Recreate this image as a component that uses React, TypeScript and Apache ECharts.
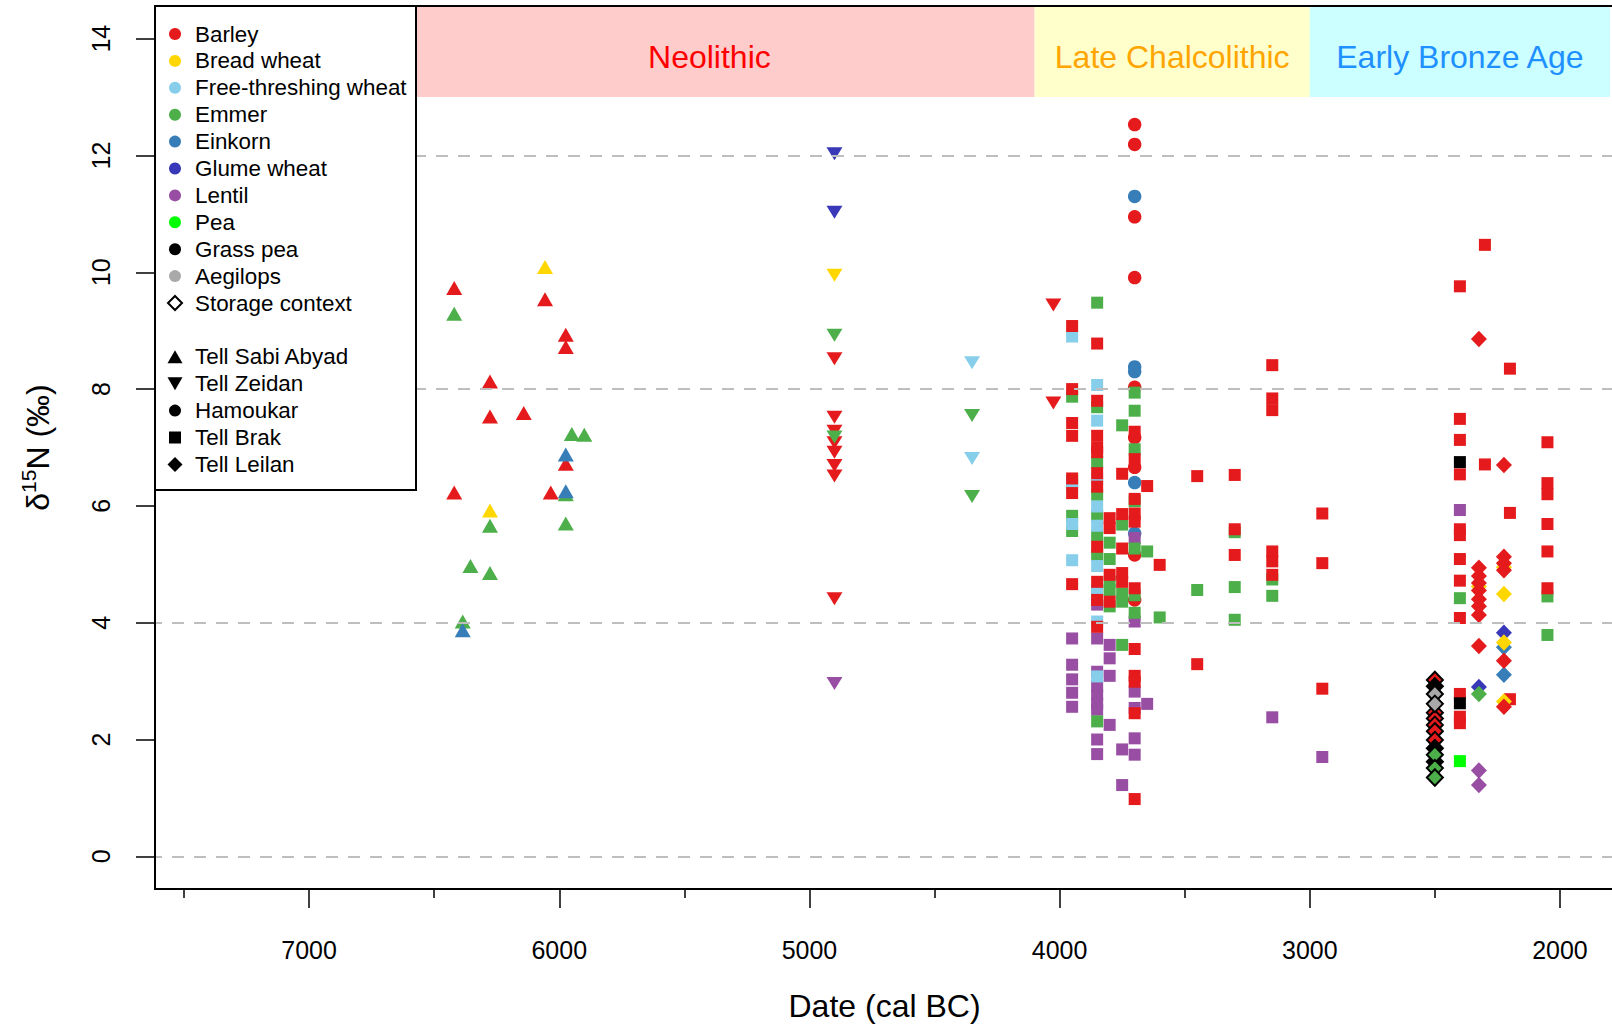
import React, { useEffect, useRef } from "react";
import * as echarts from "echarts";

type Pt = [number, number];

const FONT = "Liberation Sans, Arial, sans-serif";

// Axis extents (cal BC, reversed) and d15N
const X_MIN = 1784;
const X_MAX = 7616;
const Y_MIN = -0.56;
const Y_MAX = 14.56;

const xMajorTicks = [7000, 6000, 5000, 4000, 3000, 2000];
const xMinorTicks = [7500, 6500, 5500, 4500, 3500, 2500];
const yTicks = [0, 2, 4, 6, 8, 10, 12, 14];
const gridLineValues = [0, 4, 8, 12];

// Periods
const periodNames = ["Neolithic", "Late Chalcolithic", "Early Bronze Age"];
const periodStart = [6700, 4100, 3000];
const periodEnd = [4100, 3000, 1800];
const periodBottom = 13;
const periodFill = ["#FFCCCC", "#FFFFCC", "#CCFFFF"];
const periodTextColor = ["#FF0000", "#FFA500", "#1E90FF"];

// Legend
const speciesNames = ["Barley", "Bread wheat", "Free-threshing wheat", "Emmer", "Einkorn", "Glume wheat", "Lentil", "Pea", "Grass pea", "Aegilops"];
const speciesColors = ["#E41A1C", "#FFD700", "#87CEEB", "#4DAF4A", "#377EB8", "#3838B8", "#984EA3", "#00FF00", "#000000", "#A9A9A9"];
const storageLabel = "Storage context";
const siteNames = ["Tell Sabi Abyad", "Tell Zeidan", "Hamoukar", "Tell Brak", "Tell Leilan"];

// ---- Tell Sabi Abyad ----
const sabiBarley: Pt[] = [[6420, 9.73], [6057, 9.54], [5974, 8.93], [5974, 8.72], [6277, 8.13], [6277, 7.53], [6142, 7.59], [5974, 6.72], [6420, 6.23], [6034, 6.23]];
const sabiBreadWheat: Pt[] = [[6057, 10.09], [6277, 5.92]];
const sabiEmmer: Pt[] = [[6420, 9.29], [5950, 7.23], [5900, 7.22], [5974, 6.2], [6277, 5.66], [5974, 5.7], [6355, 4.97], [6277, 4.85], [6386, 4.02]];
const sabiEinkorn: Pt[] = [[5974, 6.88], [5974, 6.25], [6386, 3.87]];

// ---- Tell Zeidan ----
const zeidanBarley: Pt[] = [[4900, 8.52], [4900, 7.52], [4900, 7.28], [4900, 7.08], [4900, 6.92], [4900, 6.69], [4900, 6.51], [4900, 4.41], [4025, 9.44], [4025, 7.76]];
const zeidanBreadWheat: Pt[] = [[4900, 9.95]];
const zeidanFreeThreshing: Pt[] = [[4350, 8.45], [4350, 6.81]];
const zeidanEmmer: Pt[] = [[4900, 8.92], [4900, 7.18], [4350, 7.55], [4350, 6.16]];
const zeidanGlume: Pt[] = [[4900, 12.03], [4900, 11.03]];
const zeidanLentil: Pt[] = [[4900, 2.96]];

// ---- Hamoukar ----
const hamoukarBarley: Pt[] = [[3700, 12.53], [3700, 12.19], [3700, 10.95], [3700, 9.91], [3700, 8.03], [3700, 7.17], [3700, 6.66], [3700, 5.16], [3700, 4.39]];
const hamoukarEinkorn: Pt[] = [[3700, 11.3], [3700, 8.38], [3700, 8.3], [3700, 6.4], [3700, 5.53]];

// ---- Tell Brak ----
const brakBarley: Pt[] = [
  [3950, 9.08], [3950, 8.0], [3950, 7.42], [3950, 7.2], [3950, 6.47], [3950, 6.22], [3950, 4.66],
  [3850, 8.78], [3850, 7.8], [3850, 7.2], [3850, 7.0], [3850, 6.92], [3850, 6.56], [3850, 6.33], [3850, 5.3], [3850, 4.7], [3850, 4.39], [3850, 3.93],
  [3800, 5.79], [3800, 5.62], [3800, 4.82], [3800, 4.36],
  [3750, 6.55], [3750, 5.86], [3750, 5.27], [3750, 4.85], [3750, 4.7],
  [3700, 7.27], [3700, 6.8], [3700, 6.12], [3700, 5.87], [3700, 5.73], [3700, 4.59], [3700, 3.55], [3700, 3.09], [3700, 2.99], [3700, 2.45], [3700, 0.98],
  [3650, 6.34], [3600, 4.99], [3450, 6.51], [3450, 3.29],
  [3300, 6.53], [3300, 5.6], [3300, 5.16],
  [3150, 8.41], [3150, 7.84], [3150, 7.64], [3150, 5.22], [3150, 5.05], [3150, 4.82],
  [2950, 5.87], [2950, 5.02], [2950, 2.87],
  [2400, 9.76], [2400, 7.49], [2400, 7.13], [2400, 6.54], [2400, 5.6], [2400, 5.5], [2400, 5.09], [2400, 4.72], [2400, 4.08], [2400, 2.78], [2400, 2.39], [2400, 2.28],
  [2300, 10.47], [2300, 6.71],
  [2200, 8.35], [2200, 5.88], [2200, 2.69],
  [2050, 7.09], [2050, 6.39], [2050, 6.2], [2050, 5.69], [2050, 5.22], [2050, 4.59],
];
const brakFreeThreshing: Pt[] = [
  [3950, 8.9], [3950, 6.36], [3950, 5.69], [3950, 5.07],
  [3850, 8.07], [3850, 7.46], [3850, 6.46], [3850, 5.99], [3850, 5.66], [3850, 4.97], [3850, 4.57], [3850, 4.02], [3850, 3.08],
];
const brakEmmer: Pt[] = [
  [3950, 7.87], [3950, 6.42], [3950, 5.83], [3950, 5.57],
  [3850, 9.48], [3850, 7.69], [3850, 6.75], [3850, 6.19], [3850, 5.83], [3850, 5.49], [3850, 5.16], [3850, 4.53], [3850, 2.31],
  [3800, 5.37], [3800, 5.09], [3800, 4.7], [3800, 4.56], [3800, 4.28],
  [3750, 7.38], [3750, 5.68], [3750, 4.5], [3750, 4.36], [3750, 3.62],
  [3700, 7.94], [3700, 7.63], [3700, 6.97], [3700, 6.08], [3700, 5.27], [3700, 4.47], [3700, 4.17],
  [3650, 5.22], [3600, 4.09], [3450, 4.56],
  [3300, 5.55], [3300, 4.61], [3300, 4.05],
  [3150, 4.74], [3150, 4.46],
  [2400, 4.42], [2050, 4.45], [2050, 3.79],
];
const brakLentil: Pt[] = [
  [3950, 3.73], [3950, 3.28], [3950, 3.03], [3950, 2.8], [3950, 2.56],
  [3850, 4.31], [3850, 3.73], [3850, 3.16], [3850, 2.91], [3850, 2.76], [3850, 2.62], [3850, 2.51], [3850, 2.0], [3850, 1.75],
  [3800, 3.62], [3800, 3.39], [3800, 3.09], [3800, 2.25],
  [3750, 1.83], [3750, 1.22],
  [3700, 5.45], [3700, 4.02], [3700, 2.82], [3700, 2.54], [3700, 2.02], [3700, 1.74],
  [3650, 2.61], [3150, 2.38], [2950, 1.7], [2400, 5.93],
];
const brakPea: Pt[] = [[2400, 1.63]];
const brakGrassPea: Pt[] = [[2400, 6.75], [2400, 2.62]];

// ---- Tell Leilan ----
const leilanBarley: Pt[] = [
  [2324, 8.86], [2324, 4.94], [2324, 4.8], [2324, 4.68], [2324, 4.55], [2324, 4.4], [2324, 4.28], [2324, 4.13], [2324, 3.6],
  [2224, 6.7], [2224, 5.13], [2224, 5.02], [2224, 4.9], [2224, 3.35], [2224, 2.56],
];
const leilanBreadWheat: Pt[] = [[2324, 4.62], [2224, 4.95], [2224, 4.49], [2224, 3.66], [2224, 2.65]];
const leilanEmmer: Pt[] = [[2324, 2.78]];
const leilanGlume: Pt[] = [[2324, 2.9], [2224, 3.83]];
const leilanEinkorn: Pt[] = [[2224, 3.58], [2224, 3.11]];
const leilanLentil: Pt[] = [[2324, 1.47], [2324, 1.22]];
// storage context (outlined)
const leilanStorageBarley: Pt[] = [[2500, 3.02], [2500, 2.46], [2500, 2.36], [2500, 2.25], [2500, 2.14], [2500, 1.99]];
const leilanStorageGrassPea: Pt[] = [[2500, 2.91], [2500, 1.85], [2500, 1.62]];
const leilanStorageAegilops: Pt[] = [[2500, 2.78], [2500, 2.61]];
const leilanStorageEmmer: Pt[] = [[2500, 1.74], [2500, 1.51], [2500, 1.35]];

type Group = { site: number; species: number; data: Pt[]; storage?: boolean };
const groups: Group[] = [
  { site: 0, species: 0, data: sabiBarley },
  { site: 0, species: 1, data: sabiBreadWheat },
  { site: 0, species: 3, data: sabiEmmer },
  { site: 0, species: 4, data: sabiEinkorn },
  { site: 1, species: 0, data: zeidanBarley },
  { site: 1, species: 1, data: zeidanBreadWheat },
  { site: 1, species: 2, data: zeidanFreeThreshing },
  { site: 1, species: 3, data: zeidanEmmer },
  { site: 1, species: 5, data: zeidanGlume },
  { site: 1, species: 6, data: zeidanLentil },
  { site: 2, species: 0, data: hamoukarBarley },
  { site: 2, species: 4, data: hamoukarEinkorn },
  { site: 3, species: 6, data: brakLentil },
  { site: 3, species: 3, data: brakEmmer },
  { site: 3, species: 2, data: brakFreeThreshing },
  { site: 3, species: 0, data: brakBarley },
  { site: 3, species: 7, data: brakPea },
  { site: 3, species: 8, data: brakGrassPea },
  { site: 4, species: 5, data: leilanGlume },
  { site: 4, species: 4, data: leilanEinkorn },
  { site: 4, species: 1, data: leilanBreadWheat },
  { site: 4, species: 0, data: leilanBarley },
  { site: 4, species: 3, data: leilanEmmer },
  { site: 4, species: 6, data: leilanLentil },
  { site: 4, species: 0, data: leilanStorageBarley, storage: true },
  { site: 4, species: 8, data: leilanStorageGrassPea, storage: true },
  { site: 4, species: 9, data: leilanStorageAegilops, storage: true },
  { site: 4, species: 3, data: leilanStorageEmmer, storage: true },
];

const siteSymbols: { symbol: string; size: number | number[]; rotate: number }[] = [
  { symbol: "triangle", size: [16, 14], rotate: 0 },
  { symbol: "triangle", size: [16, 13], rotate: 180 },
  { symbol: "circle", size: 13.5, rotate: 0 },
  { symbol: "rect", size: 12, rotate: 0 },
  { symbol: "diamond", size: [16, 16.5], rotate: 0 },
];

// layout
const GRID_LEFT = 155;
const GRID_TOP = 6;
const GRID_W = 1459;
const GRID_H = 883;

function buildLegend(): any[] {
  const els: any[] = [];
  const lx = 175;
  const tx = 195;
  const y0 = 34;
  const step = 26.9;
  els.push({
    type: "rect",
    z: 100,
    shape: { x: GRID_LEFT, y: GRID_TOP, width: 261, height: 484 },
    style: { fill: "#fff", stroke: "#000", lineWidth: 2 },
  });
  const text = (y: number, t: string) => ({
    type: "text",
    z: 101,
    x: tx,
    y,
    style: { text: t, fontSize: 22.4, fontFamily: FONT, fill: "#000", verticalAlign: "middle", align: "left" },
  });
  speciesNames.forEach((name, i) => {
    const y = y0 + i * step;
    els.push({ type: "circle", z: 101, shape: { cx: lx, cy: y, r: 6 }, style: { fill: speciesColors[i] } });
    els.push(text(y, name));
  });
  const ys = y0 + speciesNames.length * step;
  els.push({
    type: "polygon",
    z: 101,
    shape: { points: [[lx, ys - 7], [lx + 7, ys], [lx, ys + 7], [lx - 7, ys]] },
    style: { fill: "#fff", stroke: "#000", lineWidth: 2 },
  });
  els.push(text(ys, storageLabel));
  siteNames.forEach((name, i) => {
    const y = y0 + (12 + i) * step;
    let shape: any;
    if (i === 0) shape = { type: "polygon", shape: { points: [[lx - 7.5, y + 6.5], [lx + 7.5, y + 6.5], [lx, y - 6.5]] } };
    else if (i === 1) shape = { type: "polygon", shape: { points: [[lx - 7.5, y - 6.5], [lx + 7.5, y - 6.5], [lx, y + 6.5]] } };
    else if (i === 2) shape = { type: "circle", shape: { cx: lx, cy: y, r: 6 } };
    else if (i === 3) shape = { type: "rect", shape: { x: lx - 6, y: y - 6, width: 12, height: 12 } };
    else shape = { type: "polygon", shape: { points: [[lx, y - 7.5], [lx + 7.5, y], [lx, y + 7.5], [lx - 7.5, y]] } };
    els.push({ ...shape, z: 101, style: { fill: "#000" } });
    els.push(text(y, name));
  });
  // plot box
  els.push({
    type: "rect",
    z: 120,
    shape: { x: GRID_LEFT, y: GRID_TOP, width: GRID_W, height: GRID_H },
    style: { fill: "none", stroke: "#000", lineWidth: 2 },
  });
  return els;
}

export default function App() {
  const ref = useRef<HTMLDivElement>(null);
  useEffect(() => {
    document.body.style.margin = "0";
    if (!ref.current) return;
    const chart = echarts.init(ref.current, null, { renderer: "svg" });

    const dataSeries = groups.map((g) => {
      const sym = siteSymbols[g.site];
      return {
        type: "scatter",
        name: `${siteNames[g.site]} - ${speciesNames[g.species]}${g.storage ? " (storage)" : ""}`,
        data: g.data,
        symbol: sym.symbol,
        symbolSize: sym.size,
        symbolRotate: sym.rotate,
        silent: true,
        z: 3,
        itemStyle: {
          color: speciesColors[g.species],
          opacity: 1,
          borderColor: g.storage ? "#000" : speciesColors[g.species],
          borderWidth: g.storage ? 2 : 0,
        },
      };
    });

    const option: any = {
      animation: false,
      backgroundColor: "#fff",
      grid: { left: GRID_LEFT, top: GRID_TOP, width: GRID_W, height: GRID_H, outerBoundsMode: "none", containLabel: false },
      xAxis: [
        {
          type: "value",
          min: X_MIN,
          max: X_MAX,
          inverse: true,
          position: "bottom",
          axisLine: { show: false, onZero: false },
          splitLine: { show: false },
          axisTick: { show: true, customValues: xMajorTicks, length: 19, lineStyle: { color: "#000", width: 1.5 } },
          axisLabel: {
            show: true,
            customValues: xMajorTicks,
            margin: 48,
            fontSize: 25,
            color: "#000",
            fontFamily: FONT,
            formatter: (v: number) => String(v),
          },
          name: "Date (cal BC)",
          nameLocation: "middle",
          nameGap: 101,
          nameTextStyle: { fontSize: 32, color: "#000", fontFamily: FONT },
        },
        {
          type: "value",
          min: X_MIN,
          max: X_MAX,
          inverse: true,
          position: "bottom",
          axisLine: { show: false, onZero: false },
          splitLine: { show: false },
          axisTick: { show: true, customValues: xMinorTicks, length: 9, lineStyle: { color: "#000", width: 1.5 } },
          axisLabel: { show: false },
        },
      ],
      yAxis: {
        type: "value",
        min: Y_MIN,
        max: Y_MAX,
        axisLine: { show: false, onZero: false },
        splitLine: { show: false },
        axisTick: { show: true, customValues: yTicks, length: 19, lineStyle: { color: "#000", width: 1.5 } },
        axisLabel: {
          show: true,
          customValues: yTicks,
          rotate: 90,
          margin: 42,
          fontSize: 25,
          color: "#000",
          fontFamily: FONT,
          formatter: (v: number) => String(v),
        },
        name: "{a|δ}{b|15}{a|N (‰)}",
        nameLocation: "middle",
        nameRotate: 90,
        nameGap: 101,
        nameTextStyle: {
          color: "#000",
          fontFamily: FONT,
          rich: {
            a: { fontSize: 32, fontFamily: FONT, color: "#000", lineHeight: 36, verticalAlign: "bottom" },
            b: { fontSize: 21, fontFamily: FONT, color: "#000", lineHeight: 36, verticalAlign: "top" },
          },
        },
      },
      graphic: buildLegend(),
      series: [
        {
          type: "scatter",
          name: "periods",
          data: [],
          silent: true,
          z: 1,
          markArea: {
            silent: true,
            data: periodNames.map((name, i) => [
              {
                name,
                xAxis: periodStart[i],
                yAxis: periodBottom,
                itemStyle: { color: periodFill[i], opacity: 1 },
                label: { show: true, position: "inside", color: periodTextColor[i], fontSize: 32, fontFamily: FONT, offset: [0, 5] },
              },
              { xAxis: periodEnd[i], yAxis: Y_MAX },
            ]),
          },
          markLine: {
            silent: true,
            symbol: ["none", "none"],
            label: { show: false },
            lineStyle: { color: "#BEBEBE", width: 2, type: [12, 10] },
            data: gridLineValues.map((v) => ({ yAxis: v })),
          },
        },
        ...dataSeries,
      ],
    };
    chart.setOption(option);
    return () => chart.dispose();
  }, []);
  return <div ref={ref} style={{ width: 1612, height: 1024 }} />;
}
